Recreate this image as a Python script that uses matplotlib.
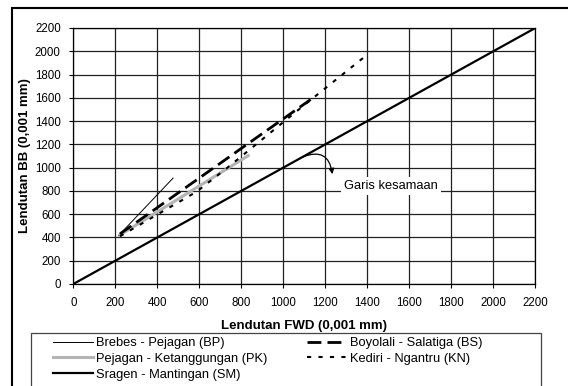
import matplotlib
matplotlib.use("Agg")
import matplotlib.pyplot as plt
from matplotlib.patches import Rectangle

plt.rcParams['font.family'] = ['Liberation Sans', 'DejaVu Sans']
plt.rcParams['font.size'] = 8

# Lendutan FWD (x) vs Lendutan BB (y)
bp_x = [215, 475]
bp_y = [415, 910]
pk_x = [222, 833]
pk_y = [421, 1103]
bs_x = [222, 1130]
bs_y = [430, 1585]
kn_x = [222, 587, 730, 857, 1080, 1397]
kn_y = [410, 793, 994, 1180, 1509, 1967]
sm_x = [0, 2200]
sm_y = [0, 2200]

ticks = list(range(0, 2201, 200))

W, H = 568, 386
fig = plt.figure(figsize=(W / 100, H / 100), dpi=100)
ax = fig.add_axes([73.3 / W, 1 - 284 / H, 462 / W, 256 / H])

ax.plot(bp_x, bp_y, color='black', lw=0.7, label='Brebes - Pejagan (BP)')
ax.plot(pk_x, pk_y, color='#b4b4b4', lw=2.2, label='Pejagan - Ketanggungan (PK)')
ax.plot(sm_x, sm_y, color='black', lw=1.6, label='Sragen - Mantingan (SM)')
ax.plot(bs_x, bs_y, color='black', lw=2.0, dashes=(5, 2.2), label='Boyolali - Salatiga (BS)')
ax.plot(kn_x, kn_y, color='black', lw=1.5, dashes=(2, 3.5), label='Kediri - Ngantru (KN)')

ax.set_xlim(0, 2200)
ax.set_ylim(0, 2200)
ax.set_xticks(ticks)
ax.set_yticks(ticks)
ax.grid(True, color='#222222', lw=0.9)
ax.set_axisbelow(True)
for s in ax.spines.values():
    s.set_color('black')
    s.set_linewidth(0.9)
ax.tick_params(direction='out', length=3, width=0.8, color='black', pad=6, labelsize=8.3)

ax.set_xlabel('Lendutan FWD (0,001 mm)', fontweight='bold', fontsize=9.5, labelpad=8)
ax.set_ylabel('Lendutan BB (0,001 mm)', fontweight='bold', fontsize=9.5, labelpad=3)

# curved arrow from the equality line to the label
ax.annotate('', xy=(1235, 920), xytext=(1080, 1082),
            arrowprops=dict(arrowstyle='-|>', color='black', lw=0.9,
                            connectionstyle='arc3,rad=-0.7', mutation_scale=8))
ax.text(1290, 840, 'Garis kesamaan', ha='left', va='center', fontsize=9.3,
        bbox=dict(facecolor='white', edgecolor='none', pad=2))

handles, labels = ax.get_legend_handles_labels()
leg = fig.legend(handles, labels, ncol=2, loc='upper left',
                 bbox_to_anchor=(53 / W, 1 - 337 / H), frameon=False,
                 fontsize=9.3, handlelength=3.1, handletextpad=0.2,
                 labelspacing=0.3, borderaxespad=0, borderpad=0,
                 columnspacing=3.1)

# legend frame and outer chart border
fig.patches.append(Rectangle((31 / W, -0.05), 510 / W, 1 - 333 / H + 0.05,
                             transform=fig.transFigure, fill=False,
                             edgecolor='#444444', lw=0.9))
fig.patches.append(Rectangle((12 / W, -0.05), 1.0, 1 - 8 / H + 0.05,
                             transform=fig.transFigure, fill=False,
                             edgecolor='black', lw=1.5, zorder=0))

fig.savefig('out.png', dpi=100)
